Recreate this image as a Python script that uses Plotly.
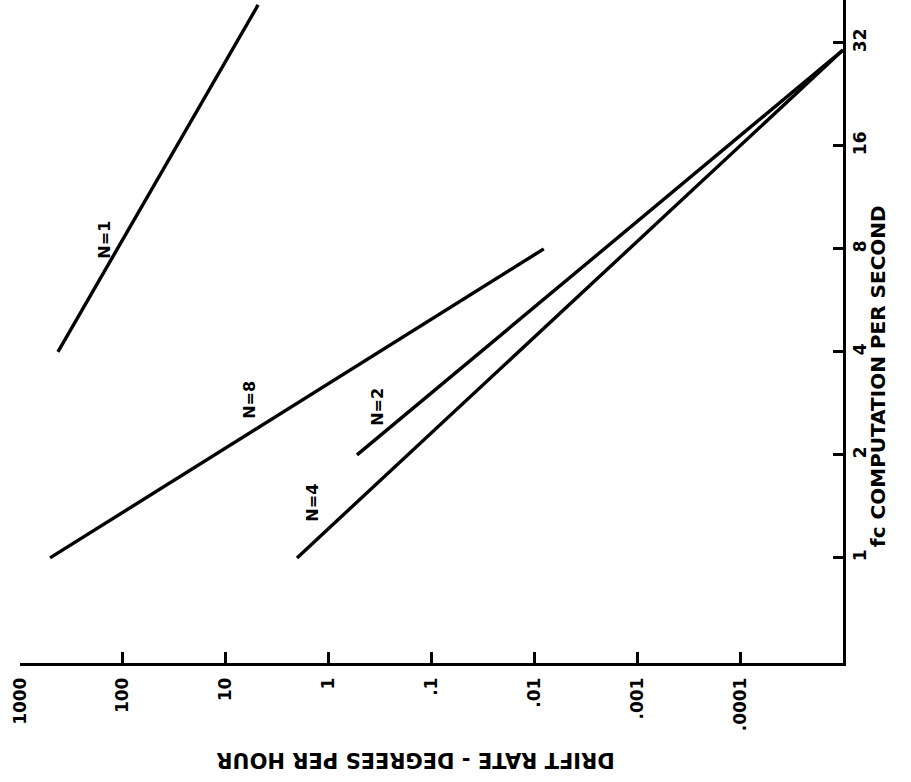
import math
import plotly.graph_objects as go

# ---- data ----
drift_ticks = [1000, 100, 10, 1, 0.1, 0.01, 0.001, 0.0001]
drift_labels = ["1000", "100", "10", "1", ".1", ".01", ".001", ".0001"]
fc_ticks = [1, 2, 4, 8, 16, 32]
fc_labels = ["1", "2", "4", "8", "16", "32"]

n1_drift = [428, 4.85]
n1_fc = [4, 41.3]
n8_drift = [511, 0.0081]
n8_fc = [1, 8]
n4_drift = [2.03, 0.00001]
n4_fc = [1, 30.5]
n2_drift = [0.53, 0.00001]
n2_fc = [2, 30.5]

series_names = ["N=1", "N=8", "N=4", "N=2"]
label_drift = [150, 5.8, 1.42, 0.34]
label_fc = [8.5, 2.9, 1.45, 2.76]

W, H = 911, 782
ML, MR, MT, MB = 20, 68, 0, 119

fig = go.Figure()
for xs, ys, nm in [(n1_drift, n1_fc, "N=1"), (n8_drift, n8_fc, "N=8"),
                   (n4_drift, n4_fc, "N=4"), (n2_drift, n2_fc, "N=2")]:
    fig.add_trace(go.Scatter(x=xs, y=ys, mode="lines", name=nm,
                             line=dict(color="black", width=3.4),
                             showlegend=False, hoverinfo="skip"))

font_main = dict(family="DejaVu Sans", size=17, color="black", weight="bold")

for nm, dx, fy in zip(series_names, label_drift, label_fc):
    fig.add_annotation(x=math.log10(dx), y=math.log10(fy), xref="x", yref="y",
                       text=nm, showarrow=False, textangle=-90,
                       font=dict(family="DejaVu Sans", size=16, color="black", weight="bold"))

fig.add_annotation(x=0.481, y=-0.146, xref="paper", yref="paper",
                   text="DRIFT RATE - DEGREES PER HOUR", showarrow=False,
                   textangle=180, xanchor="center", yanchor="middle",
                   font=dict(family="DejaVu Sans", size=21, color="black", weight="bold"))
fig.add_annotation(x=1.0425, y=0.433, xref="paper", yref="paper",
                   text="fc COMPUTATION PER SECOND", showarrow=False,
                   textangle=-90, xanchor="center", yanchor="middle",
                   font=dict(family="DejaVu Sans", size=20, color="black", weight="bold"))

fig.update_layout(
    width=W, height=H, autosize=False,
    margin=dict(l=ML, r=MR, t=MT, b=MB, pad=0),
    paper_bgcolor="white", plot_bgcolor="white",
    xaxis=dict(type="log", range=[3, -5], showgrid=False, zeroline=False,
               showline=True, linecolor="black", linewidth=2.5,
               ticks="inside", ticklen=11, tickwidth=2.5, tickcolor="black",
               tickvals=drift_ticks, ticktext=drift_labels, tickangle=-90,
               tickfont=font_main, ticklabelstandoff=5),
    yaxis=dict(type="log", side="right",
               range=[math.log10(0.493), math.log10(42.7)],
               showgrid=False, zeroline=False,
               showline=True, linecolor="black", linewidth=2.5,
               ticks="inside", ticklen=10, tickwidth=2.5, tickcolor="black",
               tickvals=fc_ticks, ticktext=fc_labels, tickangle=-90,
               tickfont=font_main, ticklabelstandoff=0),
)

fig.write_html("out.html", config={"displayModeBar": False},
               post_script="document.body.style.margin='0';")
